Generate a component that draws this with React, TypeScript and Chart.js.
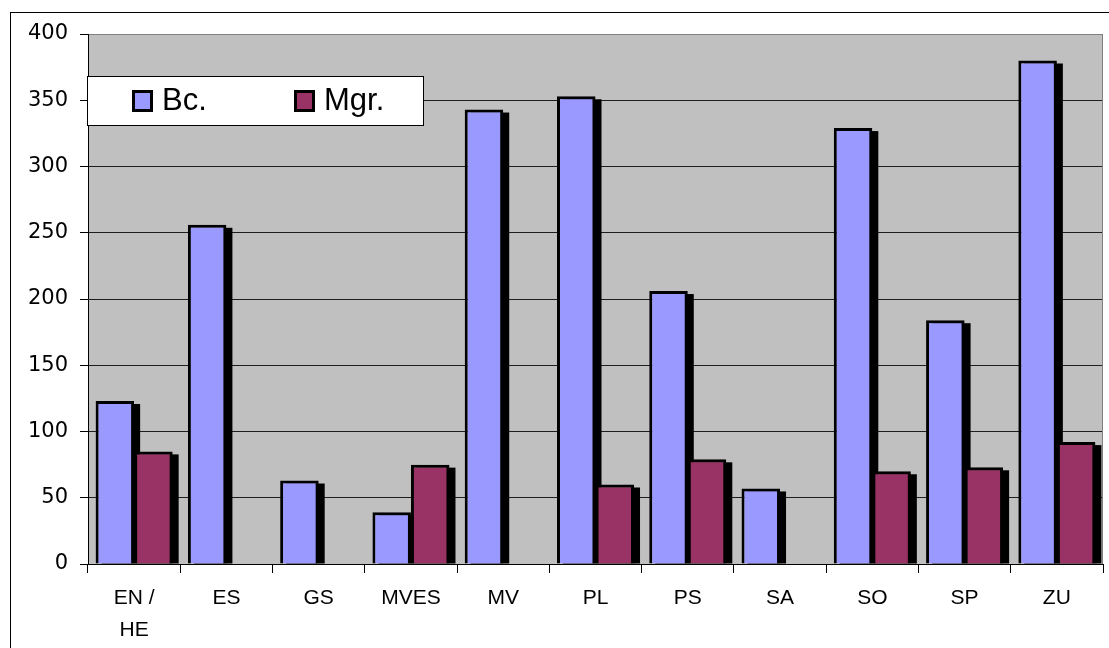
import { useEffect, useRef } from 'react';
import { Chart, registerables } from 'chart.js';

Chart.register(...registerables);

const categories: (string | string[])[] = [['EN /', 'HE'], 'ES', 'GS', 'MVES', 'MV', 'PL', 'PS', 'SA', 'SO', 'SP', 'ZU'];
const bcValues: (number | null)[] = [123, 256, 63, 39, 343, 353, 206, 57, 329, 184, 380];
const mgrValues: (number | null)[] = [85, null, null, 75, null, 60, 79, null, 70, 73, 92];
const seriesLabels = ['Bc.', 'Mgr.'];
const seriesColors = ['#9999FF', '#993366'];
const yMin = 0;
const yMax = 400;
const yStep = 50;

const FONT = '"Liberation Sans", Arial, sans-serif';
const YFONT = '"DejaVu Sans", "Liberation Sans", Arial, sans-serif';

const plotBackground = {
  id: 'plotBackground',
  beforeDraw(chart: any) {
    const { ctx, chartArea: a } = chart;
    ctx.save();
    ctx.fillStyle = '#C0C0C0';
    ctx.fillRect(a.left, a.top, a.right - a.left, a.bottom - a.top);
    ctx.restore();
  },
};

const barShadows = {
  id: 'barShadows',
  beforeDatasetsDraw(chart: any) {
    const { ctx, chartArea: a } = chart;
    ctx.save();
    ctx.strokeStyle = '#808080';
    ctx.lineWidth = 1;
    ctx.beginPath();
    ctx.moveTo(Math.round(a.right) - 0.5, a.top);
    ctx.lineTo(Math.round(a.right) - 0.5, a.bottom);
    ctx.stroke();

    ctx.beginPath();
    ctx.rect(a.left, a.top, a.right - a.left, a.bottom - a.top);
    ctx.clip();
    ctx.fillStyle = '#000';
    const dx = 6;
    const dy = 3;
    chart.data.datasets.forEach((ds: any, i: number) => {
      const meta = chart.getDatasetMeta(i);
      meta.data.forEach((el: any, j: number) => {
        if (ds.data[j] == null) return;
        const { x, y, base, width } = el.getProps(['x', 'y', 'base', 'width'], true);
        ctx.fillRect(x - width / 2 + dx, y + dy, width, base - y - dy);
      });
    });
    ctx.restore();
  },
};

const boxLegend = {
  id: 'boxLegend',
  afterDraw(chart: any) {
    const { ctx } = chart;
    ctx.save();
    ctx.fillStyle = '#FFFFFF';
    ctx.fillRect(87, 76, 336, 49);
    ctx.strokeStyle = '#000';
    ctx.lineWidth = 1;
    ctx.strokeRect(87.5, 76.5, 336, 49);
    const markerX = [132, 294];
    const textX = [162, 324];
    ctx.font = `31px ${FONT}`;
    ctx.textBaseline = 'alphabetic';
    ctx.textAlign = 'left';
    chart.data.datasets.forEach((ds: any, i: number) => {
      ctx.fillStyle = ds.backgroundColor;
      ctx.fillRect(markerX[i] + 1.5, 91.5, 18, 19);
      ctx.strokeStyle = '#000';
      ctx.lineWidth = 3;
      ctx.strokeRect(markerX[i] + 1.5, 91.5, 18, 19);
      ctx.fillStyle = '#000';
      ctx.fillText(ds.label, textX[i], 110);
    });
    ctx.restore();
  },
};

export default function App() {
  const canvasRef = useRef<HTMLCanvasElement | null>(null);

  useEffect(() => {
    if (!canvasRef.current) return;
    Chart.defaults.font.family = FONT;
    const chart = new Chart(canvasRef.current, {
      type: 'bar',
      data: {
        labels: categories,
        datasets: [
          {
            label: seriesLabels[0],
            data: bcValues,
            backgroundColor: seriesColors[0],
            borderColor: '#000',
            borderWidth: 3,
            borderSkipped: 'start',
            categoryPercentage: 0.835,
            barPercentage: 1,
          },
          {
            label: seriesLabels[1],
            data: mgrValues,
            backgroundColor: seriesColors[1],
            borderColor: '#000',
            borderWidth: 3,
            borderSkipped: 'start',
            categoryPercentage: 0.835,
            barPercentage: 1,
          },
        ],
      },
      options: {
        responsive: false,
        animation: false,
        devicePixelRatio: 1,
        layout: { padding: { top: 34, right: 6, left: 0, bottom: 0 } },
        plugins: {
          legend: { display: false },
          tooltip: { enabled: false },
          title: { display: false },
        },
        scales: {
          x: {
            offset: true,
            grid: {
              display: true,
              drawOnChartArea: false,
              drawTicks: true,
              tickLength: 9,
              tickColor: '#000',
              offset: true,
            },
            border: { display: true, color: '#000', width: 1 },
            ticks: {
              color: '#000',
              font: { size: 21, lineHeight: 1.53 },
              padding: 9,
              autoSkip: false,
              maxRotation: 0,
              minRotation: 0,
            },
            afterFit: (s: any) => {
              s.height = 84;
            },
          },
          y: {
            min: yMin,
            max: yMax,
            ticks: { stepSize: yStep, color: '#000', font: { size: 21, family: YFONT }, padding: 12 },
            grid: {
              color: (c: any) => (c.tick && c.tick.value === yMax ? '#808080' : '#1e1e1e'),
              tickColor: '#000',
              tickLength: 8,
              lineWidth: 1,
            },
            border: { display: true, color: '#000', width: 1 },
            afterFit: (s: any) => {
              s.width = 88;
            },
          },
        },
      },
      plugins: [plotBackground, barShadows, boxLegend],
    });
    return () => chart.destroy();
  }, []);

  return (
    <div style={{ position: 'fixed', left: 0, top: 0, width: 1109, height: 648, overflow: 'hidden', background: '#fff' }}>
      <div
        style={{
          position: 'absolute',
          left: 10,
          top: 12,
          width: 1200,
          height: 700,
          border: '1px solid #000',
          boxSizing: 'border-box',
        }}
      />
      <canvas
        ref={canvasRef}
        width={1109}
        height={648}
        style={{ position: 'absolute', left: 0, top: 0, width: 1109, height: 648 }}
      />
    </div>
  );
}
